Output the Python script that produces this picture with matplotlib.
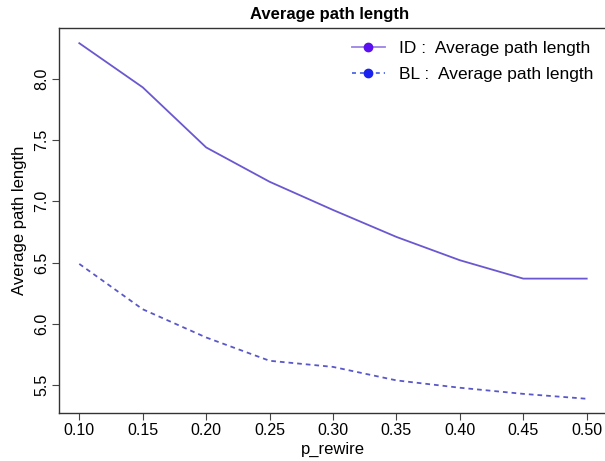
import matplotlib
matplotlib.use("Agg")
import matplotlib.pyplot as plt
from matplotlib.lines import Line2D

plt.rcParams["font.family"] = ["Liberation Sans", "DejaVu Sans"]

# data
p_rewire = [0.10, 0.15, 0.20, 0.25, 0.30, 0.35, 0.40, 0.45, 0.50]
id_apl = [8.29, 7.93, 7.44, 7.16, 6.93, 6.71, 6.52, 6.37, 6.37]
bl_apl = [6.49, 6.12, 5.89, 5.70, 5.65, 5.54, 5.48, 5.43, 5.39]
x_ticks = [0.10, 0.15, 0.20, 0.25, 0.30, 0.35, 0.40, 0.45, 0.50]
y_ticks = [5.5, 6.0, 6.5, 7.0, 7.5, 8.0]

W, H = 605, 461
fig = plt.figure(figsize=(W / 100, H / 100), dpi=100)
# axes box in pixels: left 59, right 607 (just past the edge), top 28, bottom 413
ax = fig.add_axes([59 / W, (H - 413) / H, (607 - 59) / W, (413 - 28) / H])

ax.plot(p_rewire, id_apl, color="#6b58d0", lw=1.3)
ax.plot(p_rewire, bl_apl, color="#5a58c8", lw=1.3, linestyle=(0, (2.6, 2.2)))

ax.set_xlim(0.084, 0.516)
ax.set_ylim(5.274, 8.414)
ax.set_xticks(x_ticks)
ax.set_xticklabels([f"{v:.2f}" for v in x_ticks])
ax.set_yticks(y_ticks)
ax.set_yticklabels([f"{v:.1f}" for v in y_ticks], rotation=90, va="center")
ax.tick_params(direction="out", length=5, width=0.8, labelsize=11.5,
               color="#444444", pad=2)

for side in ["left", "bottom", "top"]:
    ax.spines[side].set_color("#333333")
    ax.spines[side].set_linewidth(1.0)
ax.spines["right"].set_visible(False)

ax.set_xlabel("p_rewire", fontsize=12, labelpad=3)
ax.set_ylabel("Average path length", fontsize=12, labelpad=5)
fig.text(330 / W, 1 - 14 / H, "Average path length", fontsize=12,
         fontweight="bold", ha="center", va="center")

handles = [
    Line2D([], [], color="#9b82e6", lw=1.3, marker="o", markersize=6,
           markerfacecolor="#5a10f0", markeredgecolor="#5a10f0"),
    Line2D([], [], color="#4f68e6", lw=1.3, linestyle=(0, (2.2, 2.2)),
           marker="o", markersize=6,
           markerfacecolor="#1a22f0", markeredgecolor="#1a22f0"),
]
fig.legend(handles, ["ID :  Average path length", "BL :  Average path length"],
           loc="upper left", bbox_to_anchor=(352 / W, 1 - 41 / H),
           frameon=False, fontsize=12.5, handlelength=1.9,
           handletextpad=0.8, labelspacing=0.6, borderpad=0, borderaxespad=0)

fig.savefig("out.png", dpi=100)
